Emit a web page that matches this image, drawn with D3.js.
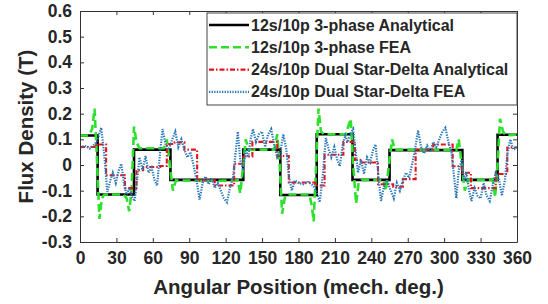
<!DOCTYPE html>
<html>
<head>
<meta charset="utf-8">
<script src="https://cdn.jsdelivr.net/npm/d3@7"></script>
<style>
body { margin: 0; background: #fff; }
text { font-family: "Liberation Sans", Arial, sans-serif; font-weight: bold; fill: #262626; }
</style>
</head>
<body>
<script>
// tick values / labels
var xTicks = [0, 30, 60, 90, 120, 150, 180, 210, 240, 270, 300, 330, 360];
var yTicks = [-0.3, -0.2, -0.1, 0, 0.1, 0.2, 0.3, 0.4, 0.5, 0.6];
var yTickLabels = ["-0.3", "-0.2", "-0.1", "0", "0.1", "0.2", "0.3", "0.4", "0.5", "0.6"];

var seriesNames = [
    "12s/10p 3-phase Analytical",
    "12s/10p 3-phase FEA",
    "24s/10p Dual Star-Delta Analytical",
    "24s/10p Dual Star-Delta FEA"
];

// 12s/10p analytical (step starts)
var ana12 = [[0, 0.115], [14.5, -0.115], [44.5, 0.06], [74.5, -0.058], [134.5, 0.06], [165, -0.117],
    [195, 0.12], [224.5, -0.058], [255, 0.058], [315, -0.058], [344, 0.118], [360, 0.118]];

// 12s/10p FEA
var fea12 = [[0, 0.115], [7, 0.115], [10, 0.14], [12, 0.22], [14, 0.02], [16, -0.21], [18, -0.13], [20, -0.115],
    [36, -0.115], [38.5, -0.13], [40.5, -0.18], [42.5, -0.1], [44.5, 0.15], [46.5, 0.09], [49, 0.065],
    [69, 0.065], [71.5, 0.1], [74, 0.0], [76.5, -0.1], [79, -0.06], [104, -0.062], [130, -0.06],
    [132, -0.11], [134.5, 0.0], [136.5, 0.1], [139, 0.06], [160, 0.06], [162.5, 0.12], [164.5, 0.0],
    [166.5, -0.19], [169, -0.12], [171, -0.115], [189, -0.115], [191, -0.16], [192.5, -0.22], [194.5, 0.0],
    [196.5, 0.22], [198.5, 0.13], [201, 0.12], [219, 0.12], [221, 0.15], [223, 0.18], [225, 0.0],
    [227.5, -0.15], [229.5, -0.07], [232, -0.058], [250, -0.058], [252, -0.1], [254.5, 0.0], [257, 0.1],
    [259.5, 0.06], [285, 0.06], [310, 0.058], [312, 0.1], [314.5, 0.0], [317, -0.1], [319.5, -0.058],
    [340, -0.058], [342, -0.125], [344, 0.0], [346, 0.18], [348.5, 0.13], [351, 0.115], [360, 0.118]];

// 24s/10p dual star-delta analytical (step starts)
var ana24 = [[0, 0.07], [13.5, 0.08], [21.5, -0.04], [37, -0.09], [46.5, -0.02], [52, -0.008], [66, -0.004],
    [71.5, 0.082], [78, 0.088], [86, 0.06], [96.5, -0.06], [111, -0.08], [127, 0.005], [134.5, 0.033],
    [142, 0.09], [162.5, 0.035], [172, -0.068], [193.5, -0.08], [201.5, 0.04], [217, 0.09], [226.5, 0.02],
    [232, 0.01], [245.5, -0.075], [258, -0.085], [266, -0.055], [276.5, 0.06], [291, 0.08], [307, -0.005],
    [314.5, -0.03], [322, -0.09], [342.5, -0.035], [352, 0.068], [360, 0.068]];

// 24s/10p dual star-delta FEA
var fea24 = [[0, 0.068], [4, 0.075], [8, 0.064], [12, 0.08], [14.5, 0.1], [17.5, 0.145], [20, 0.04],
    [22.5, -0.105], [25, -0.06], [27, -0.03], [29.5, -0.07], [32, -0.02], [34, 0.005], [36.5, -0.08],
    [38.5, -0.115], [40.5, -0.09], [43, -0.125], [45, -0.14], [47, -0.06], [49, 0.03], [51.5, -0.02],
    [54, 0.035], [56.5, -0.03], [59, -0.01], [61.5, -0.06], [63.5, -0.08], [66, 0.05], [68, 0.14],
    [70.5, 0.08], [73, 0.06], [76, 0.1], [78.5, 0.13], [81, 0.07], [83.5, 0.1], [86, 0.06], [88.5, 0.03],
    [91, 0.05], [93.5, 0.0], [96, -0.06], [98.5, -0.135], [101, -0.07], [103.5, -0.045], [106, -0.075],
    [108.5, -0.05], [111, -0.09], [113.5, -0.07], [116, -0.1], [118.5, -0.13], [121, -0.145], [123.5, -0.09],
    [126, -0.05], [128.5, 0.06], [130, 0.13], [132, 0.02], [134.5, -0.02], [136.5, 0.06], [138.5, 0.03],
    [140.5, 0.1], [142.5, 0.14], [145, 0.09], [147.5, 0.12], [150, 0.13], [152.5, 0.07], [155, 0.12],
    [157.5, 0.14], [160, 0.08], [162.5, 0.03], [165, 0.05], [167.5, 0.12], [170, 0.06], [172, -0.04],
    [174.5, -0.1], [177, -0.06], [180, -0.07], [184, -0.075], [188, -0.066], [192, -0.08], [194.5, -0.1],
    [197.5, -0.145], [200, -0.04], [202.5, 0.105], [205, 0.06], [207, 0.03], [209.5, 0.07], [212, 0.02],
    [214, -0.005], [216.5, 0.08], [218.5, 0.115], [220.5, 0.09], [223, 0.125], [225, 0.14], [227, 0.06],
    [229, -0.03], [231.5, 0.02], [234, -0.035], [236.5, 0.03], [239, 0.01], [241.5, 0.06], [243.5, 0.08],
    [246, -0.05], [248, -0.14], [250.5, -0.08], [253, -0.06], [256, -0.1], [258.5, -0.13], [261, -0.07],
    [263.5, -0.1], [266, -0.06], [268.5, -0.03], [271, -0.05], [273.5, 0.0], [276, 0.06], [278.5, 0.135],
    [281, 0.07], [283.5, 0.045], [286, 0.075], [288.5, 0.05], [291, 0.09], [293.5, 0.07], [296, 0.1],
    [298.5, 0.13], [301, 0.145], [303.5, 0.09], [306, 0.05], [308.5, -0.06], [310, -0.13], [312, -0.02],
    [314.5, 0.02], [316.5, -0.06], [318.5, -0.03], [320.5, -0.1], [322.5, -0.14], [325, -0.09],
    [327.5, -0.12], [330, -0.13], [332.5, -0.07], [335, -0.12], [337.5, -0.14], [340, -0.08],
    [342.5, -0.03], [345, -0.05], [347.5, -0.12], [350, -0.06], [352, 0.04], [354.5, 0.1], [357, 0.06],
    [360, 0.07]];

var w = 548;
var h = 304;
var plotLeft = 80, plotRight = 517, plotTop = 11, plotBottom = 242;

var x = d3.scaleLinear().domain([0, 360]).range([plotLeft, plotRight]);
var y = d3.scaleLinear().domain([-0.3, 0.6]).range([plotBottom, plotTop]);

var svg = d3.select("body")
    .append("svg")
    .attr("width", w)
    .attr("height", h);

svg.append("clipPath").attr("id", "plotclip")
    .append("rect")
    .attr("x", plotLeft).attr("y", plotTop)
    .attr("width", plotRight - plotLeft).attr("height", plotBottom - plotTop);

var styles = [
    { color: "#000000", width: 2.6, dash: null, curve: d3.curveStepAfter },
    { color: "#2ee02e", width: 2.6, dash: "8,4", curve: d3.curveLinear },
    { color: "#e3141e", width: 2.1, dash: "5,2,1.5,2", curve: d3.curveStepAfter },
    { color: "#2776b8", width: 2.2, dash: "1.3,1.3", curve: d3.curveLinear }
];
var allData = [ana12, fea12, ana24, fea24];

var plot = svg.append("g").attr("clip-path", "url(#plotclip)");

allData.forEach(function (d, i) {
    var line = d3.line()
        .x(function (p) { return x(p[0]); })
        .y(function (p) { return y(p[1]); })
        .curve(styles[i].curve);
    plot.append("path")
        .datum(d)
        .attr("d", line)
        .attr("fill", "none")
        .attr("stroke", styles[i].color)
        .attr("stroke-width", styles[i].width)
        .attr("stroke-dasharray", styles[i].dash);
});

// axes: ticks inside, on all four sides
var axisColor = "#333";
function styleAxis(g) {
    g.select(".domain").attr("stroke", axisColor);
    g.selectAll("line").attr("stroke", axisColor);
    g.selectAll("text").style("font-size", "17.5px").attr("fill", "#262626");
}
svg.append("g")
    .attr("transform", "translate(0," + plotBottom + ")")
    .call(d3.axisBottom(x).tickValues(xTicks).tickSizeInner(-4).tickSizeOuter(0).tickPadding(10))
    .call(styleAxis);
svg.append("g")
    .attr("transform", "translate(0," + plotTop + ")")
    .call(d3.axisTop(x).tickValues(xTicks).tickSizeInner(-4).tickSizeOuter(0).tickFormat(""))
    .call(styleAxis);
svg.append("g")
    .attr("transform", "translate(" + plotLeft + ",0)")
    .call(d3.axisLeft(y).tickValues(yTicks).tickSizeInner(-4).tickSizeOuter(0).tickPadding(8)
        .tickFormat(function (d, i) { return yTickLabels[i]; }))
    .call(styleAxis);
svg.append("g")
    .attr("transform", "translate(" + plotRight + ",0)")
    .call(d3.axisRight(y).tickValues(yTicks).tickSizeInner(-4).tickSizeOuter(0).tickFormat(""))
    .call(styleAxis);

// axis titles
svg.append("text")
    .attr("x", (plotLeft + plotRight) / 2)
    .attr("y", 294)
    .attr("text-anchor", "middle")
    .style("font-size", "20.5px")
    .text("Angular Position (mech. deg.)");

svg.append("text")
    .attr("transform", "translate(33," + (plotTop + plotBottom) / 2 + ") rotate(-90)")
    .attr("text-anchor", "middle")
    .style("font-size", "20.5px")
    .text("Flux Density (T)");

// legend
var lg = svg.append("g");
lg.append("rect")
    .attr("x", 207).attr("y", 13)
    .attr("width", plotRight - 207).attr("height", 92)
    .attr("fill", "#fff")
    .attr("stroke", "#444")
    .attr("stroke-width", 1);

seriesNames.forEach(function (name, i) {
    var ly = 25 + i * 22.3;
    lg.append("line")
        .attr("x1", 209).attr("x2", 249)
        .attr("y1", ly).attr("y2", ly)
        .attr("stroke", styles[i].color)
        .attr("stroke-width", styles[i].width)
        .attr("stroke-dasharray", styles[i].dash);
    lg.append("text")
        .attr("x", 251)
        .attr("y", ly + 5.5)
        .style("font-size", "16px")
        .attr("fill", "#111")
        .text(name);
});
</script>
</body>
</html>
